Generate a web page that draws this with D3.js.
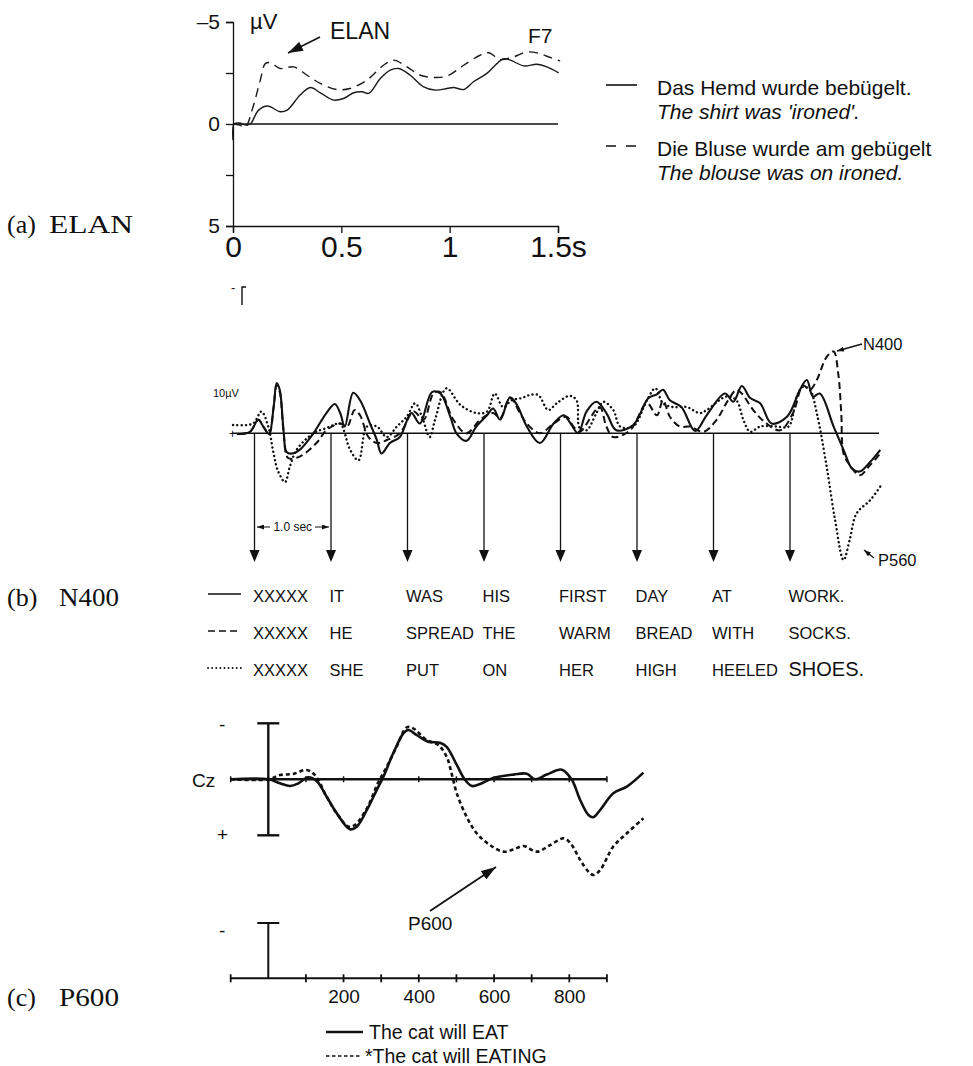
<!DOCTYPE html>
<html>
<head>
<meta charset="utf-8">
<script src="https://cdn.jsdelivr.net/npm/d3@7"></script>
<style>
  body { margin: 0; background: #fff; }
  text { font-family: "Liberation Sans", Arial, sans-serif; fill: #111; }
  .serif { font-family: "Liberation Serif", "Times New Roman", serif; }
</style>
</head>
<body>
<svg id="fig" width="973" height="1066"></svg>
<script>
// ---------------- (a) ELAN, electrode F7 (s, µV; negative plotted up) ----------------
const elanTicksX = [0, 0.5, 1, 1.5];
const elanTickLabelsX = ["0", "0.5", "1", "1.5s"];
const elanTicksY = [-5, 0, 5];
const elanTickLabelsY = ["–5", "0", "5"];
const elanMinorTicksY = [-2.5, 2.5];

const elanCorrect = [
  [0, 0.8], [0.005, 0], [0.03, -0.05], [0.06, 0.05], [0.08, 0], [0.118, -0.68], [0.16, -0.88],
  [0.218, -0.6], [0.25, -0.68], [0.31, -1.42], [0.357, -1.79], [0.403, -1.53], [0.465, -1.17],
  [0.51, -1.25], [0.557, -1.53], [0.595, -1.58], [0.626, -1.5], [0.68, -2.23], [0.726, -2.64],
  [0.765, -2.72], [0.818, -2.39], [0.88, -1.82], [0.934, -1.66], [0.988, -1.74], [1.018, -1.79],
  [1.065, -1.69], [1.11, -2.07], [1.172, -2.48], [1.218, -2.96], [1.249, -3.2], [1.28, -3.13],
  [1.342, -2.85], [1.403, -2.93], [1.449, -2.8], [1.503, -2.51]
];
const elanViolation = [
  [0, 0], [0.03, 0.05], [0.057, 0.15], [0.088, -0.68], [0.126, -2.15], [0.149, -2.96],
  [0.172, -3.01], [0.218, -2.72], [0.28, -2.8], [0.342, -2.39], [0.403, -1.99], [0.48, -1.69],
  [0.54, -1.74], [0.618, -2.15], [0.695, -2.88], [0.74, -3.13], [0.803, -2.8], [0.865, -2.39],
  [0.926, -2.28], [0.988, -2.35], [1.065, -2.88], [1.14, -3.37], [1.18, -3.49], [1.234, -3.16],
  [1.295, -3.29], [1.357, -3.53], [1.418, -3.45], [1.449, -3.32], [1.51, -3.09]
];
const elanLegendGerman = ["Das Hemd wurde bebügelt.", "Die Bluse wurde am gebügelt"];
const elanLegendEnglish = ["The shirt was 'ironed'.", "The blouse was on ironed."];

// ---------------- (b) N400, sentence-final words (s, µV; negative plotted up) ----------------
const wordOnsets = [0, 1, 2, 3, 4, 5, 6, 7];
const sentences = [
  ["XXXXX", "IT", "WAS", "HIS", "FIRST", "DAY", "AT", "WORK."],
  ["XXXXX", "HE", "SPREAD", "THE", "WARM", "BREAD", "WITH", "SOCKS."],
  ["XXXXX", "SHE", "PUT", "ON", "HER", "HIGH", "HEELED", "SHOES."]
];
const n400Congruent = [
  [-0.23, 0.1], [-0.06, -0.2], [0.05, -1.8], [0.115, -0.9], [0.19, 0.1], [0.25, -3.5], [0.29, -6.7],
  [0.33, -5.8], [0.38, -0.4], [0.42, 2.5], [0.49, 2.7], [0.59, 2.2], [0.77, 0], [0.94, -2.7],
  [1.05, -3.9], [1.12, -2.7], [1.18, -0.9], [1.29, -5.4], [1.38, -4.4], [1.51, -1.3], [1.6, 0.9],
  [1.66, 2.7], [1.77, 1.3], [1.9, 0.5], [2.05, -2.7], [2.16, -1.3], [2.32, -5.5], [2.43, -5.3],
  [2.56, -2.2], [2.64, 0], [2.77, 1.0], [2.9, -0.9], [3.04, -2.4], [3.12, -3.3], [3.21, -1.8],
  [3.34, -4.8], [3.43, -3.8], [3.56, -0.9], [3.73, 1.3], [3.91, -1.3], [4.04, -2.4], [4.12, -1.5],
  [4.23, 0], [4.34, -2.9], [4.47, -4.2], [4.6, -2.7], [4.73, -0.4], [4.95, -1.1], [5.15, -4.7],
  [5.26, -5.2], [5.34, -5.8], [5.43, -4.4], [5.58, -3.5], [5.76, -0.3], [5.91, -2.4], [6.15, -5.3],
  [6.26, -4.2], [6.37, -6.3], [6.48, -4.7], [6.61, -4.0], [6.76, -1.3], [6.96, -2.2], [7.13, -5.8],
  [7.22, -7.1], [7.3, -4.9], [7.39, -5.3], [7.57, -0.9], [7.7, 2.2], [7.81, 4.7], [7.91, 5.1],
  [8.05, 3.8], [8.18, 2.2]
];
const n400Anomalous = [
  [-0.19, 0.1], [-0.06, -0.2], [0.05, -1.8], [0.115, -0.9], [0.19, 0.1], [0.25, -3.5], [0.29, -6.4],
  [0.33, -5.5], [0.38, -0.2], [0.44, 3.3], [0.59, 3.1], [0.81, 1.3], [0.94, -0.4], [1.12, -1.3],
  [1.21, -0.9], [1.31, -3.1], [1.38, -2.4], [1.49, 0.5], [1.6, 1.3], [1.73, 0.9], [1.9, 0],
  [2.08, -2.9], [2.21, -1.8], [2.34, -5.3], [2.43, -5.5], [2.6, -1.8], [2.77, 0], [2.95, -1.8],
  [3.12, -2.7], [3.21, -2.0], [3.34, -4.7], [3.47, -2.7], [3.56, -1.3], [3.73, 0], [3.91, -1.3],
  [4.08, -2.2], [4.17, -0.9], [4.25, -0.2], [4.51, -3.5], [4.6, -0.9], [4.69, 0.5], [4.91, -0.4],
  [5.13, -4.0], [5.26, -2.4], [5.34, -4.4], [5.43, -2.2], [5.56, -0.9], [5.69, -0.9], [5.87, -0.2],
  [6.04, -1.8], [6.19, -4.4], [6.3, -5.8], [6.37, -5.3], [6.52, -3.1], [6.67, -1.5], [6.87, -0.4],
  [7.04, -2.7], [7.17, -6.4], [7.26, -5.8], [7.35, -7.1], [7.48, -10.2], [7.57, -10.9], [7.63, -8.0],
  [7.67, -2.7], [7.7, 2.7], [7.78, 4.2], [7.91, 5.6], [8.05, 4.2], [8.18, 2.7]
];
const n400Physical = [
  [-0.28, -1.1], [-0.02, -1.3], [0.09, -2.9], [0.18, -0.9], [0.25, 2.7], [0.31, 5.1], [0.4, 6.5],
  [0.46, 4.5], [0.55, 2.2], [0.77, 0], [0.94, -0.7], [1.03, -1.1], [1.12, -1.3], [1.25, 2.2],
  [1.36, 3.6], [1.47, -0.9], [1.6, -0.9], [1.73, 0.5], [1.86, -0.9], [1.99, -2.2], [2.1, -4.0],
  [2.19, -2.2], [2.29, 0.5], [2.36, -1.8], [2.51, -6.0], [2.69, -3.8], [2.9, -2.7], [3.04, -2.9],
  [3.14, -5.3], [3.25, -3.5], [3.36, -4.4], [3.49, -4.7], [3.6, -5.1], [3.71, -5.1], [3.84, -3.1],
  [3.95, -4.0], [4.12, -5.0], [4.21, -4.4], [4.25, -0.7], [4.34, -0.4], [4.47, -2.7], [4.56, -4.2],
  [4.69, -3.1], [4.78, -0.9], [4.95, -0.9], [5.13, -4.4], [5.24, -6.0], [5.34, -4.0], [5.47, -3.5],
  [5.65, -3.5], [5.82, -2.7], [5.91, -3.1], [6.17, -4.9], [6.3, -4.4], [6.39, -1.8], [6.48, -0.2],
  [6.61, -0.9], [6.83, -0.9], [6.98, -0.9], [7.09, -4.9], [7.17, -6.2], [7.26, -5.8], [7.35, -2.7],
  [7.48, 4.5], [7.59, 11.6], [7.7, 16.9], [7.78, 14.2], [7.87, 10.7], [8.05, 8.9], [8.18, 7.1]
];

// ---------------- (c) P600 at Cz (ms, µV; negative plotted up) ----------------
const p600TicksX = [-100, 0, 100, 200, 300, 400, 500, 600, 700, 800, 900];
const p600LabelledTicks = [200, 400, 600, 800];
const p600Grammatical = [
  [-100, 0], [0, 0], [31, 0.36], [58, 0.6], [80, 0.36], [106, -0.18], [129, 0.18], [155, 1.55],
  [182, 3.04], [217, 4.46], [235, 4.23], [262, 2.74], [288, 0.96], [306, -0.24], [332, -2.32],
  [359, -4.1], [372, -4.4], [394, -3.96], [425, -3.36], [456, -3.27], [474, -2.9], [501, -1.28],
  [523, 0.06], [541, 0.6], [563, 0.42], [598, -0.12], [652, -0.42], [687, -0.5], [709, 0],
  [740, -0.42], [780, -0.86], [806, 0], [829, 1.85], [851, 3.19], [864, 3.39], [882, 2.74],
  [917, 1.25], [953, 0.65], [997, -0.6]
];
const p600Ungrammatical = [
  [-100, 0], [0, 0], [31, -0.38], [66, -0.48], [102, -0.83], [124, -0.38], [155, 1.55], [182, 3.04],
  [213, 4.23], [230, 4.08], [262, 2.6], [292, 0.3], [315, -1.13], [341, -2.9], [368, -4.64],
  [385, -4.55], [421, -3.51], [452, -3.06], [474, -2.02], [487, -0.54], [501, 1.25], [527, 3.34],
  [554, 4.82], [589, 5.87], [625, 6.46], [652, 6.26], [678, 5.96], [714, 6.46], [749, 5.87],
  [785, 5.27], [802, 5.66], [829, 7.2], [851, 8.25], [864, 8.54], [882, 8.1], [917, 6.0],
  [953, 4.82], [997, 3.48]
];
const p600Legend = ["The cat will EAT", "*The cat will EATING"];

const panelLabels = [["(a)", "ELAN"], ["(b)", "N400"], ["(c)", "P600"]];

// ---------------- drawing ----------------
const svg = d3.select("#fig");
const ink = "#111";
const smooth = d3.curveCatmullRom.alpha(0.5);
const defs = svg.append("defs");

// arrowheads sized in page pixels
function addArrowHead(id, len, wid) {
  defs.append("marker")
    .attr("id", id).attr("markerUnits", "userSpaceOnUse")
    .attr("viewBox", `0 0 ${len} ${wid}`).attr("refX", len).attr("refY", wid / 2)
    .attr("markerWidth", len).attr("markerHeight", wid).attr("orient", "auto")
    .append("path").attr("d", `M0,0 L${len},${wid / 2} L0,${wid} Z`).attr("fill", ink);
}
addArrowHead("headBig", 15, 10);
addArrowHead("headSmall", 7, 5);

// panel letters
const labelY = [233, 606, 1006];
panelLabels.forEach(([tag, name], i) => {
  svg.append("text").attr("class", "serif").attr("x", 7).attr("y", labelY[i])
    .attr("font-size", 26).text(tag);
  svg.append("text").attr("class", "serif").attr("x", i === 0 ? 49 : 59).attr("y", labelY[i])
    .attr("font-size", 26).attr("textLength", i === 0 ? 84 : 60)
    .attr("lengthAdjust", "spacingAndGlyphs").text(name);
});

// ===== (a) =====
{
  const x = d3.scaleLinear().domain([0, 1.5]).range([233, 558]);
  const y = d3.scaleLinear().domain([-5, 5]).range([22, 226]);
  const g = svg.append("g");

  const yAxis = d3.axisLeft(y).tickValues(elanTicksY).tickSize(7)
    .tickFormat((d, i) => elanTickLabelsY[i]).tickPadding(6);
  const ya = g.append("g").attr("transform", `translate(${x(0)},0)`).call(yAxis);
  ya.selectAll("text").attr("font-size", 21).attr("fill", ink)
    .style("font-family", "Liberation Sans, Arial, sans-serif");
  g.append("g").attr("transform", `translate(${x(0)},0)`)
    .call(d3.axisLeft(y).tickValues(elanMinorTicksY).tickSize(7).tickFormat(""))
    .select(".domain").remove();

  const xAxis = d3.axisBottom(x).tickValues(elanTicksX).tickSize(7)
    .tickFormat((d, i) => elanTickLabelsX[i]).tickPadding(3);
  const xa = g.append("g").attr("transform", `translate(0,${y(5)})`).call(xAxis);
  xa.selectAll("text").attr("font-size", 30).attr("fill", ink)
    .style("font-family", "Liberation Sans, Arial, sans-serif");
  g.selectAll(".domain, .tick line").attr("stroke", ink).attr("stroke-width", 1.3);

  g.append("line").attr("x1", x(0)).attr("x2", x(1.5)).attr("y1", y(0)).attr("y2", y(0))
    .attr("stroke", ink).attr("stroke-width", 1.3);

  const line = d3.line().x(d => x(d[0])).y(d => y(d[1])).curve(smooth);
  g.append("path").datum(elanCorrect).attr("d", line).attr("fill", "none")
    .attr("stroke", "#1a1a1a").attr("stroke-width", 1.4);
  g.append("path").datum(elanViolation).attr("d", line).attr("fill", "none")
    .attr("stroke", "#1a1a1a").attr("stroke-width", 1.4).attr("stroke-dasharray", "9 6");

  g.append("text").attr("x", 250).attr("y", 29).attr("font-size", 22).text("µV");
  g.append("text").attr("x", 330).attr("y", 39).attr("font-size", 23).text("ELAN");
  g.append("text").attr("x", 528).attr("y", 43).attr("font-size", 21).text("F7");
  g.append("line").attr("x1", 320).attr("y1", 37).attr("x2", 288).attr("y2", 53)
    .attr("stroke", ink).attr("stroke-width", 1.5).attr("marker-end", "url(#headBig)");

  // legend
  const legY = [95, 156];
  legY.forEach((ly, i) => {
    g.append("line").attr("x1", 606).attr("x2", 637).attr("y1", ly - 10).attr("y2", ly - 10)
      .attr("stroke", ink).attr("stroke-width", 1.6)
      .attr("stroke-dasharray", i === 0 ? null : "10 10");
    g.append("text").attr("x", 657).attr("y", ly).attr("font-size", 21).text(elanLegendGerman[i]);
    g.append("text").attr("x", 657).attr("y", ly + 24).attr("font-size", 21)
      .attr("font-style", "italic").text(elanLegendEnglish[i]);
  });
}

// ===== (b) =====
{
  const x = d3.scaleLinear().domain([0, 7]).range([254.5, 790]);
  const y = d3.scaleLinear().domain([0, -10]).range([433.3, 358.3]);
  const g = svg.append("g");

  // baseline and word-onset arrows
  g.append("line").attr("x1", 232).attr("x2", 879).attr("y1", y(0)).attr("y2", y(0))
    .attr("stroke", ink).attr("stroke-width", 1.5);
  wordOnsets.forEach(t => {
    g.append("line").attr("x1", x(t)).attr("x2", x(t)).attr("y1", y(0)).attr("y2", 552)
      .attr("stroke", ink).attr("stroke-width", 1.3);
    g.append("path").attr("d", `M${x(t) - 5},550 L${x(t) + 5},550 L${x(t)},562 Z`).attr("fill", ink);
  });

  const line = d3.line().x(d => x(d[0])).y(d => y(d[1])).curve(smooth);
  const styles = [
    { data: n400Congruent, dash: null, w: 2.1, cap: "butt" },
    { data: n400Anomalous, dash: "7 4", w: 2.0, cap: "butt" },
    { data: n400Physical, dash: "0.1 4.2", w: 2.4, cap: "round" }
  ];
  styles.forEach(s => {
    g.append("path").datum(s.data).attr("d", line).attr("fill", "none").attr("stroke", ink)
      .attr("stroke-width", s.w).attr("stroke-dasharray", s.dash).attr("stroke-linecap", s.cap);
  });

  // scale marks
  g.append("text").attr("x", 231).attr("y", 292).attr("font-size", 13).text("-");
  g.append("path").attr("d", "M246,287 L242,287 L242,305").attr("fill", "none")
    .attr("stroke", ink).attr("stroke-width", 1.4);
  g.append("text").attr("x", 213).attr("y", 397).attr("font-size", 11).text("10µV");
  g.append("text").attr("x", 229).attr("y", 438).attr("font-size", 12).text("+");

  // one-second interval
  g.append("text").attr("x", (x(0) + x(1)) / 2).attr("y", 531).attr("font-size", 12)
    .attr("text-anchor", "middle").text("1.0 sec");
  g.append("line").attr("x1", 270).attr("x2", 257).attr("y1", 527).attr("y2", 527)
    .attr("stroke", ink).attr("stroke-width", 1).attr("marker-end", "url(#headSmall)");
  g.append("line").attr("x1", 315).attr("x2", 329).attr("y1", 527).attr("y2", 527)
    .attr("stroke", ink).attr("stroke-width", 1).attr("marker-end", "url(#headSmall)");

  // component labels
  g.append("text").attr("x", 863).attr("y", 350).attr("font-size", 16.5).text("N400");
  g.append("line").attr("x1", 862).attr("y1", 344).attr("x2", 837).attr("y2", 351)
    .attr("stroke", ink).attr("stroke-width", 1.3).attr("marker-end", "url(#headSmall)");
  g.append("text").attr("x", 878).attr("y", 566).attr("font-size", 16.5).text("P560");
  g.append("line").attr("x1", 874).attr("y1", 558).attr("x2", 864).attr("y2", 550)
    .attr("stroke", ink).attr("stroke-width", 1.3).attr("marker-end", "url(#headSmall)");

  // sentence legend rows
  const rowY = [602, 639, 676];
  sentences.forEach((words, r) => {
    const ly = rowY[r] - 8;
    g.append("line").attr("x1", 208).attr("x2", 241).attr("y1", ly).attr("y2", ly)
      .attr("stroke", ink).attr("stroke-width", styles[r].w - 0.6)
      .attr("stroke-dasharray", r === 0 ? null : r === 1 ? "7 4" : "0.1 4")
      .attr("stroke-linecap", styles[r].cap);
    words.forEach((w, k) => {
      g.append("text").attr("x", x(wordOnsets[k]) - 1.5).attr("y", rowY[r])
        .attr("font-size", w === "SHOES." ? 20 : 16.5).text(w);
    });
  });
}

// ===== (c) =====
{
  const x = d3.scaleLinear().domain([0, 800]).range([268.3, 569.3]);
  const y = d3.scaleLinear().domain([-5, 5]).range([723.3, 835.3]);
  const g = svg.append("g");
  const sw = 2.4;

  // upper baseline with ticks
  g.append("line").attr("x1", x(-100)).attr("x2", x(900)).attr("y1", y(0)).attr("y2", y(0))
    .attr("stroke", ink).attr("stroke-width", sw);
  g.selectAll(".tu").data(p600TicksX).join("line")
    .attr("x1", d => x(d)).attr("x2", d => x(d)).attr("y1", y(0) - 3).attr("y2", y(0) + 3)
    .attr("stroke", ink).attr("stroke-width", 1.5);

  // amplitude bar
  g.append("line").attr("x1", x(0)).attr("x2", x(0)).attr("y1", y(-5)).attr("y2", y(5))
    .attr("stroke", ink).attr("stroke-width", sw);
  [-5, 5].forEach(v => g.append("line").attr("x1", x(0) - 11).attr("x2", x(0) + 11)
    .attr("y1", y(v)).attr("y2", y(v)).attr("stroke", ink).attr("stroke-width", sw));
  g.append("text").attr("x", 219).attr("y", 731).attr("font-size", 19).text("-");
  g.append("text").attr("x", 217).attr("y", 841).attr("font-size", 19).text("+");
  g.append("text").attr("x", 192).attr("y", 787).attr("font-size", 19).text("Cz");

  const line = d3.line().x(d => x(d[0])).y(d => y(d[1])).curve(smooth);
  g.append("path").datum(p600Grammatical).attr("d", line).attr("fill", "none")
    .attr("stroke", ink).attr("stroke-width", 2.6);
  g.append("path").datum(p600Ungrammatical).attr("d", line).attr("fill", "none")
    .attr("stroke", ink).attr("stroke-width", 2.6).attr("stroke-dasharray", "4 3");

  // P600 annotation
  g.append("text").attr("x", 408).attr("y", 930).attr("font-size", 19).text("P600");
  g.append("line").attr("x1", 430).attr("y1", 911).attr("x2", 496).attr("y2", 867)
    .attr("stroke", ink).attr("stroke-width", 1.8).attr("marker-end", "url(#headBig)");

  // lower time axis
  const axisY = 978.3;
  const xa = d3.axisBottom(x).tickValues(p600TicksX.filter(d => d !== 0)).tickSize(0)
    .tickFormat(d => p600LabelledTicks.includes(d) ? d : "").tickPadding(11);
  const ax = g.append("g").attr("transform", `translate(0,${axisY})`).call(xa);
  ax.select(".domain").remove();
  ax.selectAll("text").attr("font-size", 19).attr("fill", ink)
    .style("font-family", "Liberation Sans, Arial, sans-serif");
  g.append("line").attr("x1", x(-100)).attr("x2", x(900)).attr("y1", axisY).attr("y2", axisY)
    .attr("stroke", ink).attr("stroke-width", 2);
  g.selectAll(".tl").data(p600TicksX.filter(d => d !== 0)).join("line")
    .attr("x1", d => x(d)).attr("x2", d => x(d)).attr("y1", axisY - 4).attr("y2", axisY + 4)
    .attr("stroke", ink).attr("stroke-width", 1.8);
  g.append("line").attr("x1", x(0)).attr("x2", x(0)).attr("y1", 923).attr("y2", axisY)
    .attr("stroke", ink).attr("stroke-width", 2);
  g.append("line").attr("x1", x(0) - 11).attr("x2", x(0) + 11).attr("y1", 923).attr("y2", 923)
    .attr("stroke", ink).attr("stroke-width", 2);
  g.append("text").attr("x", 219).attr("y", 937).attr("font-size", 19).text("-");

  // legend
  const legY = [1039, 1063];
  legY.forEach((ly, i) => {
    g.append("line").attr("x1", 326).attr("x2", i === 0 ? 363 : 362).attr("y1", ly - 7).attr("y2", ly - 7)
      .attr("stroke", ink).attr("stroke-width", i === 0 ? 2.4 : 1.5)
      .attr("stroke-dasharray", i === 0 ? null : "3.5 2.5");
    g.append("text").attr("x", i === 0 ? 369 : 365).attr("y", ly).attr("font-size", 19.5).text(p600Legend[i]);
  });
}
</script>
</body>
</html>
